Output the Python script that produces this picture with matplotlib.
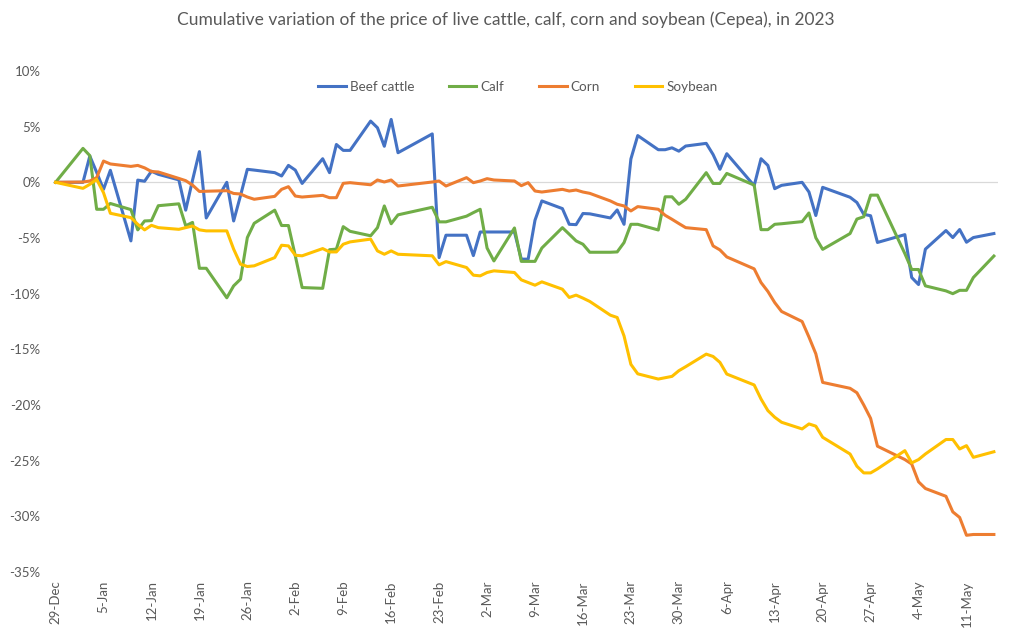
import pandas as pd
import matplotlib
matplotlib.use("Agg")
import matplotlib.pyplot as plt
import matplotlib.dates as mdates
from matplotlib.ticker import FuncFormatter

plt.rcParams['font.family'] = ['Lato', 'DejaVu Sans']

# trading days (Cepea) from 29-Dec-2022 to 15-May-2023
holidays = ['2022-12-30', '2023-02-20', '2023-02-21', '2023-04-07', '2023-04-21', '2023-05-01']
dates = pd.bdate_range('2022-12-29', '2023-05-15')
dates = dates[~dates.isin(pd.to_datetime(holidays))]

# cumulative variation, %
beef_cattle = [
    0.0, 0.0, 2.36, 0.9, -0.63, 1.08, -5.26, 0.2, 0.1, 1.0, 0.72,
    0.22, -2.5, 0.2, 2.76, -3.2, 0.0, -3.47, -1.2, 1.17, 1.1,
    0.87, 0.57, 1.52, 1.1, -0.1, 2.12, 0.87, 3.4, 2.87, 2.87,
    5.5, 4.9, 3.24, 5.65, 2.66, 4.35, -6.76, -4.75,
    -4.75, -6.58, -4.46, -4.46, -4.46, -4.46, -6.9, -6.9, -3.4, -1.67,
    -2.36, -3.77, -3.8, -2.8, -2.83, -3.2, -2.48, -3.77, 2.1, 4.2,
    2.93, 2.93, 3.1, 2.8, 3.26, 3.5, 2.5, 1.17, 2.57,
    -0.3, 2.12, 1.52, -0.57, -0.27, 0.0, -0.87, -2.98, -0.45,
    -1.34, -1.81, -2.87, -3.0, -5.4, -4.7, -8.55, -9.18, -6.0,
    -4.33, -4.96, -4.24, -5.38, -4.96, -4.6,
]
calf = [
    0.0, 3.05, 2.4, -2.42, -2.42, -1.9, -2.45, -4.27, -3.47, -3.44, -2.1,
    -1.93, -3.9, -3.6, -7.72, -7.72, -10.37, -9.3, -8.7, -4.96, -3.68,
    -2.5, -3.88, -3.88, -6.6, -9.45, -9.52, -6.05, -6.0, -3.98, -4.4,
    -4.8, -4.07, -2.12, -3.72, -2.92, -2.24, -3.55, -3.55,
    -3.04, -2.72, -2.42, -5.9, -7.06, -4.1, -7.1, -7.1, -7.1, -5.9,
    -4.07, -4.66, -5.26, -5.56, -6.28, -6.28, -6.25, -5.41, -3.77, -3.77,
    -4.28, -1.3, -1.3, -1.97, -1.52, 0.87, -0.1, -0.1, 0.8,
    -0.25, -4.25, -4.25, -3.77, -3.72, -3.53, -2.75, -4.98, -6.02,
    -4.6, -3.3, -3.09, -1.15, -1.15, -6.4, -7.83, -7.83, -9.3,
    -9.75, -10.0, -9.7, -9.7, -8.55, -6.62,
]
corn = [
    0.0, 0.03, 0.12, 0.42, 1.91, 1.65, 1.43, 1.52, 1.3, 0.97, 0.93,
    0.35, 0.15, -0.25, -0.82, -0.8, -0.75, -1.0, -1.05, -1.32, -1.52,
    -1.26, -0.63, -0.39, -1.23, -1.32, -1.17, -1.38, -1.38, -0.09, -0.03,
    -0.22, 0.21, 0.03, 0.21, -0.33, 0.03, 0.12, -0.33,
    0.42, -0.03, 0.12, 0.33, 0.21, 0.12, -0.3, -0.03, -0.78, -0.87,
    -0.63, -0.78, -0.69, -0.87, -0.99, -1.67, -1.97, -2.12, -2.57, -2.18,
    -2.42, -2.96, -3.32, -3.7, -4.07, -4.25, -5.71, -6.07, -6.7,
    -7.77, -9.0, -9.8, -10.8, -11.6, -12.5, -13.9, -15.4, -17.97,
    -18.5, -18.9, -20.0, -21.2, -23.7, -24.9, -25.3, -26.9, -27.5,
    -28.2, -29.6, -30.1, -31.7, -31.63, -31.63,
]
soybean = [
    0.0, -0.54, -0.18, 0.27, -0.93, -2.78, -3.17, -3.77, -4.27, -3.86, -4.07,
    -4.22, -4.07, -3.92, -4.27, -4.36, -4.36, -6.0, -7.35, -7.56, -7.5,
    -6.76, -5.65, -5.71, -6.55, -6.6, -5.95, -6.25, -6.25, -5.56, -5.35,
    -5.1, -6.16, -6.46, -6.16, -6.46, -6.6, -7.41, -7.12,
    -7.65, -8.34, -8.4, -8.1, -7.95, -8.1, -8.76, -9.0, -9.24, -8.94,
    -9.6, -10.34, -10.13, -10.4, -10.7, -11.93, -12.14, -13.8, -16.35, -17.2,
    -17.67, -17.55, -17.43, -16.92, -16.56, -15.43, -15.64, -16.17, -17.22,
    -18.2, -19.46, -20.5, -21.1, -21.55, -22.15, -21.7, -21.9, -22.9,
    -24.4, -25.5, -26.1, -26.1, -25.74, -24.1, -25.2, -24.9, -24.4,
    -23.1, -23.1, -23.95, -23.65, -24.7, -24.2,
]

series = [
    ('Beef cattle', beef_cattle, '#4472C4'),
    ('Calf', calf, '#70AD47'),
    ('Corn', corn, '#ED7D31'),
    ('Soybean', soybean, '#FFC000'),
]
text_color = '#595959'

fig = plt.figure(figsize=(10.13, 6.3), dpi=100)
ax = fig.add_axes([53 / 1013, 58 / 630, 945 / 1013, 501 / 630])

for name, vals, color in series:
    ax.plot(dates, vals, color=color, linewidth=2.2, label=name, solid_joinstyle='round')

start = pd.Timestamp('2022-12-29')
ax.set_xlim(start - pd.Timedelta(hours=9), start + pd.Timedelta(days=137.6))
ax.set_ylim(-35, 10)

ax.axhline(0, color='#D9D9D9', linewidth=0.9, zorder=0)
for s in ax.spines.values():
    s.set_visible(False)

ticks = pd.date_range(start, '2023-05-15', freq='7D')
ax.set_xticks(ticks)
ax.xaxis.set_major_formatter(FuncFormatter(
    lambda v, pos: f"{mdates.num2date(v).day}-{mdates.num2date(v).strftime('%b')}"))
ax.set_yticks(range(-35, 11, 5))
ax.yaxis.set_major_formatter(FuncFormatter(lambda v, pos: f"{v:.0f}%"))
ax.tick_params(axis='x', length=0, pad=6, labelrotation=90, labelsize=9.5, labelcolor=text_color)
ax.tick_params(axis='y', length=0, pad=9, labelsize=9.5, labelcolor=text_color)

fig.suptitle('Cumulative variation of the price of live cattle, calf, corn and soybean (Cepea), in 2023',
             x=506 / 1013, y=1 - 20 / 630, va='center', fontsize=12.5, color=text_color)

fig.legend(loc='center', bbox_to_anchor=(518 / 1013, 1 - 87 / 630), ncol=4, frameon=False,
           fontsize=9.75, labelcolor=text_color, handlelength=2.0, handletextpad=0.3, columnspacing=2.6)

fig.savefig('out.png', dpi=100)
